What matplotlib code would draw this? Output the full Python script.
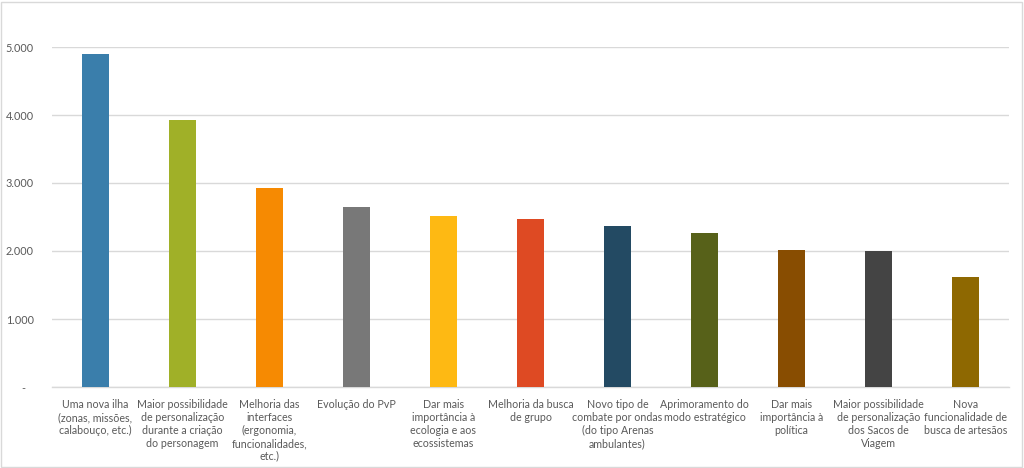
import matplotlib
matplotlib.use("Agg")
import matplotlib.pyplot as plt
from matplotlib.patches import Rectangle

categories = [
    "Uma nova ilha\n(zonas, missões,\ncalabouço, etc.)",
    "Maior possibilidade\nde personalização\ndurante a criação\ndo personagem",
    "Melhoria das\ninterfaces\n(ergonomia,\nfuncionalidades,\netc.)",
    "Evolução do PvP",
    "Dar mais\nimportância à\necologia e aos\necossistemas",
    "Melhoria da busca\nde grupo",
    "Novo tipo de\ncombate por ondas\n(do tipo Arenas\nambulantes)",
    "Aprimoramento do\nmodo estratégico",
    "Dar mais\nimportância à\npolítica",
    "Maior possibilidade\nde personalização\ndos Sacos de\nViagem",
    "Nova\nfuncionalidade de\nbusca de artesãos",
]
values = [4900, 3920, 2925, 2645, 2520, 2475, 2370, 2270, 2020, 2005, 1615]
colors = ["#3A7EAB", "#A0B028", "#F68A02", "#787878", "#FEB913", "#DE4A23",
          "#234A63", "#576119", "#884D01", "#444444", "#8E6801"]
yticks = [0, 1000, 2000, 3000, 4000, 5000]
ytick_labels = ["-   ", "1.000", "2.000", "3.000", "4.000", "5.000"]

plt.rcParams['font.family'] = ['Lato', 'DejaVu Sans']

fig = plt.figure(figsize=(10.24, 4.68), dpi=100)
ax = fig.add_axes([52/1024, 1-387/468, (1009-52)/1024, (387-47)/468])

x = list(range(len(categories)))
ax.bar(x, values, width=0.3, color=colors, zorder=3)

ax.set_xlim(-0.5, len(categories)-0.5)
ax.set_ylim(0, 5000)
ax.set_yticks(yticks)
ax.set_yticklabels(ytick_labels, fontsize=7.8, color="#595959")
ax.set_xticks(x)
ax.set_xticklabels(categories, fontsize=7.7, color="#595959", linespacing=1.2,
                   va="top", ha="center")
ax.tick_params(axis='both', length=0)
ax.tick_params(axis='y', pad=13)
ax.tick_params(axis='x', pad=9)
ax.grid(axis='y', color="#D9D9D9", linewidth=1, zorder=0)
for s in ['top', 'right', 'left']:
    ax.spines[s].set_visible(False)
ax.spines['bottom'].set_color("#D9D9D9")
ax.spines['bottom'].set_linewidth(1)

fig.patches.append(Rectangle((0.001, 0.002), 0.997, 0.994, transform=fig.transFigure,
                             fill=False, edgecolor="#D9D9D9", linewidth=1))

fig.savefig("out.png", dpi=100)
